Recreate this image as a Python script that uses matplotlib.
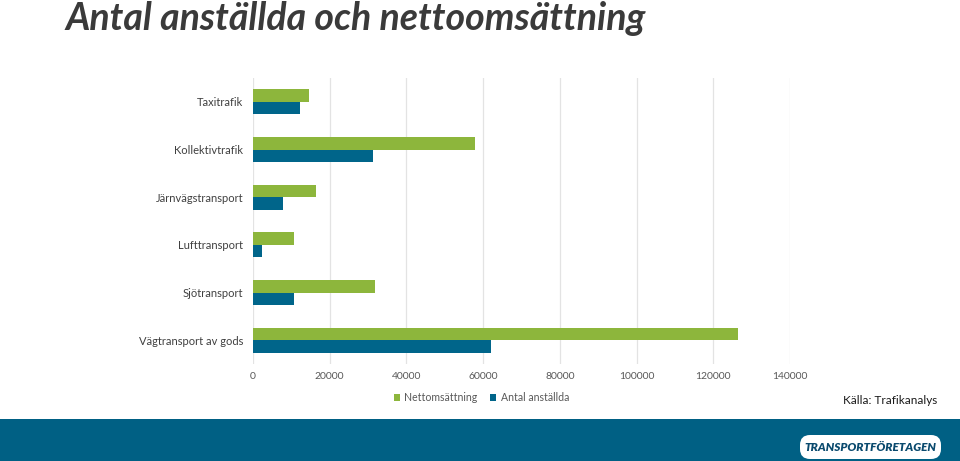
import matplotlib
matplotlib.use("Agg")
import matplotlib.pyplot as plt
from matplotlib.patches import FancyBboxPatch, Rectangle
import numpy as np

categories = ["Taxitrafik", "Kollektivtrafik", "Järnvägstransport", "Lufttransport", "Sjötransport", "Vägtransport av gods"]
nettoomsattning = [14600, 57900, 16400, 10700, 31800, 126500]
antal_anstallda = [12300, 31300, 7800, 2300, 10700, 62100]
xticks = [0, 20000, 40000, 60000, 80000, 100000, 120000, 140000]

GREEN = "#8db63c"
BLUE = "#00658a"
FONT = ["Lato", "DejaVu Sans"]

fig = plt.figure(figsize=(9.6, 4.61), dpi=100)
ax = fig.add_axes([253/960, 1-364/461, (790-253)/960, (364-78)/461])

y = np.arange(len(categories))
h = 0.26
ax.barh(y - h/2, nettoomsattning, height=h, color=GREEN, label="Nettomsättning", zorder=3)
ax.barh(y + h/2, antal_anstallda, height=h, color=BLUE, label="Antal anställda", zorder=3)

ax.set_xlim(0, 140000)
ax.set_ylim(len(categories) - 0.5, -0.5)
ax.set_yticks(y)
ax.set_yticklabels(categories, fontsize=8, color="#404040", family=FONT)
ax.set_xticks(xticks)
ax.set_xticklabels([str(v) for v in xticks], fontsize=7.5, color="#595959", family=FONT)
ax.tick_params(axis="x", length=0, pad=6)
ax.tick_params(axis="y", length=0, pad=7)
ax.grid(axis="x", color="#e3e3e3", linewidth=0.9, zorder=0)
for s in ax.spines.values():
    s.set_visible(False)

leg = ax.legend(loc="upper center", bbox_to_anchor=(0.425, -0.065), ncol=2, frameon=False,
                prop={"family": FONT, "size": 7.6}, handlelength=0.6, handleheight=0.6,
                handletextpad=0.4, columnspacing=1.2)
for t in leg.get_texts():
    t.set_color("#595959")

fig.text(65/960, 1-18/461, "Antal anställda och nettoomsättning", fontsize=27, fontweight="bold",
         style="italic", color="#3a3a3a", family=FONT, va="center", ha="left")

fig.text(937/960, 1-400/461, "Källa: Trafikanalys", fontsize=8.5, color="#1a1a1a", family=FONT,
         ha="right", va="center")

# bottom band
fig.patches.append(Rectangle((0, 0), 1, (461-419)/461, transform=fig.transFigure,
                             facecolor="#006084", edgecolor="none", zorder=-1))

# logo
lax = fig.add_axes([800/960, (461-459)/461, 141/960, 24/461])
lax.set_zorder(5)
lax.set_xlim(0, 141)
lax.set_ylim(0, 24)
lax.axis("off")
lax.add_patch(FancyBboxPatch((0, 0), 141, 24, boxstyle="round,pad=0,rounding_size=10",
                             facecolor="white", edgecolor="none", clip_on=False))
lax.text(70.5, 12, "TRANSPORTFÖRETAGEN", fontsize=8.5, fontweight="heavy",
         style="italic", color="#0a4a6e", family=FONT, ha="center", va="center")

fig.savefig("out.png", dpi=100)
